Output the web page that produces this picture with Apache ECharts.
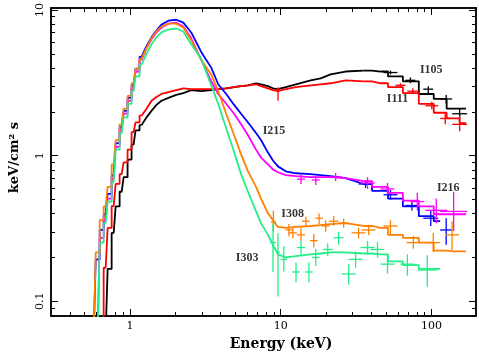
<!DOCTYPE html>
<html>
<head>
<meta charset="utf-8">
<script src="https://cdn.jsdelivr.net/npm/echarts@6/dist/echarts.min.js"></script>
<style>
  html, body { margin: 0; padding: 0; background: #fff; }
  #chart { width: 479px; height: 356px; }
</style>
</head>
<body>
<div id="chart"></div>
<script>
// energy grid of the model curves (keV)
const energy = [0.576, 0.612, 0.650, 0.691, 0.734, 0.781, 0.829, 0.882, 0.937, 0.995,
  1.058, 1.124, 1.195, 1.289, 1.391, 1.50, 1.62, 1.80, 2.03, 2.26,
  2.55, 2.97, 3.46, 3.85, 4.35, 4.91, 5.46, 6.07, 6.86, 7.40,
  8.23, 8.88, 9.58, 10.8, 12.6, 15.8, 18.4, 21.4, 26.9, 35.4,
  45.9, 57.6, 72.3, 93.7, 114, 139, 169];

// model flux (keV/cm2 s) per spectrum, null = no data
const i105 = [null, null, null, 0.06, 0.167, 0.295, 0.448, 0.565, 0.712, 0.94,
  1.19, 1.49, 1.62, 1.83, 2.03, 2.23, 2.38, 2.49, 2.61, 2.69,
  2.82, 2.77, 2.82, 2.86, 2.90, 2.95, 3.00, 3.04, 3.14, 3.09,
  3.00, 2.90, 2.86, 2.95, 3.09, 3.29, 3.39, 3.61, 3.78, 3.84,
  3.78, 3.50, 3.24, 2.65, 2.45, 2.10, 2.10];
const i111 = [null, null, 0.06, 0.17, 0.319, 0.45, 0.64, 0.746, 0.90, 1.10,
  1.45, 1.69, 1.88, 2.10, 2.38, 2.53, 2.65, 2.73, 2.82, 2.90,
  2.86, 2.86, 2.86, 2.86, 2.90, 2.95, 3.00, 3.04, 3.09, 3.00,
  2.90, 2.82, 2.77, 2.86, 2.95, 3.04, 3.09, 3.14, 3.29, 3.24,
  3.14, 2.95, 2.69, 2.27, 1.97, 1.80, 1.67];
const i215 = [0.06, 0.194, 0.309, 0.396, 0.547, 0.734, 1.22, 1.57, 2.03, 2.49,
  3.04, 3.96, 4.76, 5.65, 6.49, 7.23, 7.93, 8.44, 8.57, 8.18,
  7.01, 5.15, 4.02, 3.09, 2.65, 2.23, 1.94, 1.69, 1.43, 1.28,
  1.05, 0.926, 0.844, 0.781, 0.757, 0.746, 0.734, 0.723, 0.701, 0.639,
  0.573, 0.507, 0.448, 0.384, 0.355, null, null];
const i216 = [null, 0.06, 0.273, 0.361, 0.507, 0.690, 1.15, 1.49, 1.94, 2.38,
  2.90, 3.78, 4.55, 5.47, 6.29, 7.01, 7.57, 8.05, 8.18, 7.69,
  6.39, 4.55, 3.24, 2.65, 2.27, 1.94, 1.64, 1.38, 1.10, 0.97,
  0.87, 0.805, 0.769, 0.734, 0.723, 0.712, 0.712, 0.712, 0.701, 0.669,
  0.610, 0.556, 0.491, 0.448, 0.396, 0.396, 0.396];
const i308 = [0.06, 0.217, 0.361, 0.448, 0.610, 0.87, 1.28, 1.64, 2.10, 2.57,
  3.14, 3.96, 4.62, 5.47, 6.39, 7.12, 7.69, 8.05, 8.05, 7.57,
  6.19, 4.55, 3.61, 2.77, 1.94, 1.38, 1.02, 0.781, 0.610, 0.507,
  0.402, 0.361, 0.324, 0.319, 0.324, 0.329, 0.334, 0.339, 0.344, 0.329,
  0.319, 0.286, 0.273, 0.253, 0.223, 0.220, 0.220];
const i303 = [null, 0.06, 0.253, 0.344, 0.484, 0.659, 1.10, 1.43, 1.83, 2.27,
  2.77, 3.50, 4.21, 4.99, 5.82, 6.49, 7.01, 7.34, 7.46, 7.12,
  5.82, 4.62, 3.04, 2.27, 1.54, 1.06, 0.746, 0.565, 0.414, 0.344,
  0.286, 0.245, 0.210, 0.200, 0.204, 0.210, 0.213, 0.217, 0.217, 0.213,
  0.210, 0.188, 0.177, 0.167, 0.167, null, null];

// data points: [E low, E high, flux, flux low, flux high]
const pts105 = [[48.0, 59.4, 3.72, 3.61, 3.84], [67.1, 78.1, 3.29, 3.14, 3.44],
  [88.1, 102.6, 2.86, 2.69, 3.00], [114, 137, 2.45, 2.27, 2.61], [137, 172, 1.94, 1.80, 2.10]];
const pts111 = [[9.3, 9.9, 2.86, 2.38, 2.95], [57.6, 67.1, 3.04, 2.95, 3.14], [69.1, 81.7, 2.77, 2.65, 2.90],
  [90.9, 110.7, 2.20, 2.07, 2.34], [114, 133, 1.80, 1.64, 1.94], [137, 172, 1.64, 1.47, 1.88]];
const pts215 = [[32.8, 40.6, 0.639, 0.60, 0.68], [48.0, 59.4, 0.539, 0.499, 0.582],
  [67.1, 81.7, 0.455, 0.421, 0.491], [88.1, 110.7, 0.372, 0.329, 0.421], [114, 137, 0.309, 0.245, 0.372]];
const pts216 = [[12.8, 14.5, 0.69, 0.64, 0.74], [16.1, 18.1, 0.68, 0.63, 0.73],
  [20.8, 25.7, 0.712, 0.67, 0.76], [33.8, 41.9, 0.649, 0.591, 0.712], [45.9, 56.7, 0.591, 0.539, 0.649],
  [72.3, 89.5, 0.484, 0.421, 0.556], [90.9, 126.9, 0.421, 0.344, 0.507], [114, 172, 0.414, 0.304, 0.565]];
const pts308 = [[8.6, 9.3, 0.35, 0.30, 0.42], [10.8, 11.9, 0.309, 0.28, 0.34], [11.3, 12.8, 0.295, 0.27, 0.32],
  [12.8, 14.5, 0.286, 0.26, 0.32], [13.8, 15.6, 0.355, 0.33, 0.38], [15.6, 17.6, 0.261, 0.235, 0.29],
  [17.0, 19.0, 0.372, 0.34, 0.40], [18.7, 21.1, 0.329, 0.30, 0.36], [20.8, 24.2, 0.355, 0.33, 0.385],
  [24.2, 28.2, 0.344, 0.32, 0.37], [29.5, 36.5, 0.295, 0.27, 0.32], [34.4, 42.5, 0.309, 0.285, 0.335],
  [48.0, 59.4, 0.329, 0.286, 0.361], [68.1, 84.2, 0.253, 0.23, 0.28], [92.3, 114, 0.253, 0.217, 0.295],
  [123, 152, 0.286, 0.223, 0.355]];
const pts303 = [[8.49, 9.30, 0.253, 0.159, 0.344], [9.30, 9.88, 0.217, 0.108, 0.295], [10.0, 11.0, 0.194, 0.16, 0.24],
  [11.9, 13.4, 0.159, 0.135, 0.185], [12.8, 14.5, 0.234, 0.21, 0.26], [14.5, 16.3, 0.159, 0.135, 0.185],
  [16.1, 18.1, 0.20, 0.175, 0.23], [19.0, 22.1, 0.227, 0.205, 0.25], [22.4, 26.1, 0.273, 0.245, 0.30],
  [25.4, 31.4, 0.154, 0.13, 0.18], [28.2, 34.9, 0.194, 0.17, 0.22], [33.8, 41.9, 0.234, 0.21, 0.26],
  [39.4, 48.7, 0.227, 0.20, 0.255], [45.9, 56.7, 0.18, 0.155, 0.21], [62.1, 76.9, 0.18, 0.15, 0.21],
  [80.5, 109, 0.164, 0.126, 0.207]];

// curve names and where they are written [E, flux]
const names = ['I105', 'I111', 'I215', 'I216', 'I308', 'I303'];
const namePos = [[99.5, 3.90], [59.4, 2.45], [9.02, 1.47], [128.9, 0.60], [12.0, 0.396], [5.98, 0.20]];

const xMajor = [1, 10, 100];
const xMinor = [0.4, 0.5, 0.6, 0.7, 0.8, 0.9, 2, 3, 4, 5, 6, 7, 8, 9, 20, 30, 40, 50, 60, 70, 80, 90];
const yMajor = [0.1, 1, 10];
const yMinor = [0.08, 0.09, 0.2, 0.3, 0.4, 0.5, 0.6, 0.7, 0.8, 0.9, 2, 3, 4, 5, 6, 7, 8, 9];
const xRange = [0.30, 197];
const yRange = [0.0793, 10.31];

const colors = ['#000000', '#ff0000', '#0000ff', '#ff00ff', '#ff8000', '#22ee88'];
const curves = [i105, i111, i215, i216, i308, i303];
const points = [pts105, pts111, pts215, pts216, pts308, pts303];

// the model is drawn binned below 1.2 keV and above 35 keV, smooth in between
const segments = [[0, 12, 'middle'], [12, 39, false], [39, 46, 'middle']];

const lg = Math.log10;
const serif = 'DejaVu Serif';

function fmt(v) {
  return String(Number(Math.pow(10, v).toPrecision(3)));
}

function makeAxis(pos, range, ticks, len, withLabels) {
  return {
    type: 'value',
    position: pos,
    min: lg(range[0]),
    max: lg(range[1]),
    axisLine: { show: true, onZero: false, lineStyle: { color: '#000', width: 1.5 } },
    axisTick: { show: true, inside: true, length: len, customValues: ticks.map(lg),
      lineStyle: { color: '#000', width: 1 } },
    axisLabel: withLabels ? {
      show: true, customValues: ticks.map(lg), formatter: fmt,
      fontFamily: serif, fontSize: 11, color: '#000', margin: 5
    } : { show: false },
    splitLine: { show: false }
  };
}

const xAxes = [
  makeAxis('bottom', xRange, xMajor, 7, true),
  makeAxis('bottom', xRange, xMinor, 4, false),
  makeAxis('top', xRange, xMajor, 7, false),
  makeAxis('top', xRange, xMinor, 4, false)
];
Object.assign(xAxes[0], {
  name: 'Energy (keV)', nameLocation: 'middle', nameGap: 21,
  nameTextStyle: { fontFamily: serif, fontWeight: 'bold', fontSize: 14, color: '#000', padding: [0, 0, 0, 35] }
});
const yAxes = [
  makeAxis('left', yRange, yMajor, 7, true),
  makeAxis('left', yRange, yMinor, 4, false),
  makeAxis('right', yRange, yMajor, 7, false),
  makeAxis('right', yRange, yMinor, 4, false)
];
yAxes[0].axisLabel.rotate = 90;
Object.assign(yAxes[0], {
  name: 'keV/cm² s', nameLocation: 'middle', nameGap: 30,
  nameTextStyle: { fontFamily: serif, fontWeight: 'bold', fontSize: 13, color: '#000', padding: [0, 0, 0, 9] }
});

const series = [];
curves.forEach((flux, k) => {
  segments.forEach(([from, to, step]) => {
    const data = [];
    for (let i = from; i <= to; i++) {
      if (flux[i] != null) data.push([lg(energy[i]), lg(flux[i])]);
    }
    series.push({
      type: 'line', step, data, showSymbol: false, symbol: 'none', clip: true,
      lineStyle: { color: colors[k], width: 1.8 }, z: 2 + k
    });
  });
  series.push({
    type: 'custom', clip: true, z: 2 + k,
    data: points[k].map(p => p.map(lg)),
    encode: { x: [0, 1], y: [2, 3, 4] },
    renderItem: (params, api) => {
      const xm = (api.value(0) + api.value(1)) / 2;
      const a = api.coord([api.value(0), api.value(2)]);
      const b = api.coord([api.value(1), api.value(2)]);
      const c = api.coord([xm, api.value(3)]);
      const d = api.coord([xm, api.value(4)]);
      const style = { stroke: colors[k], lineWidth: 1.3 };
      return { type: 'group', children: [
        { type: 'line', shape: { x1: a[0], y1: a[1], x2: b[0], y2: b[1] }, style },
        { type: 'line', shape: { x1: c[0], y1: c[1], x2: d[0], y2: d[1] }, style }
      ] };
    }
  });
});
series.push({
  type: 'scatter', symbolSize: 1, itemStyle: { color: 'rgba(0,0,0,0)' }, z: 20,
  data: namePos.map((p, i) => [lg(p[0]), lg(p[1]), names[i]]),
  label: {
    show: true, position: 'inside', formatter: p => p.value[2],
    fontFamily: 'Liberation Serif', fontWeight: 'bold', fontSize: 12, color: '#000'
  }
});

const chart = echarts.init(document.getElementById('chart'));
chart.setOption({
  animation: false,
  backgroundColor: '#fff',
  grid: { left: 49, right: 3, top: 5, bottom: 36, containLabel: false },
  xAxis: xAxes,
  yAxis: yAxes,
  series
});
</script>
</body>
</html>
